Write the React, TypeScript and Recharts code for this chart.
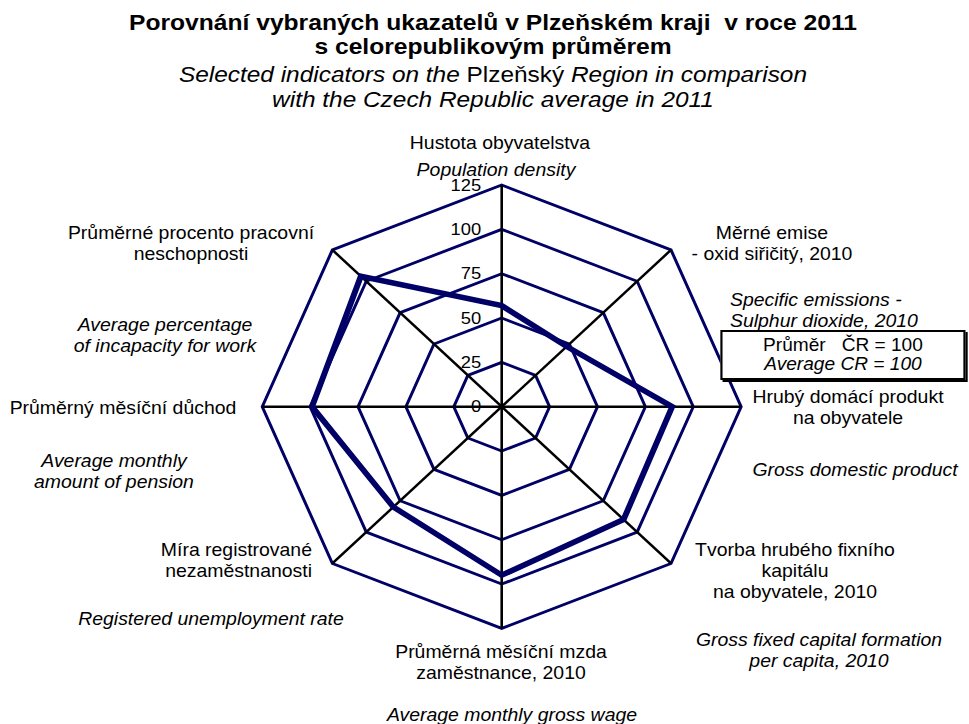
import React from 'react';
import { RadarChart, Radar, PolarGrid, PolarAngleAxis, PolarRadiusAxis } from 'recharts';

// Ukazatele v pořadí po směru hodinových ručiček, začíná se nahoře
const indicatorIds = ['hustota', 'emise', 'hdp', 'thfk', 'mzda', 'nezam', 'duchod', 'neschop'];

const czLabels = [
  'Hustota obyvatelstva',
  'Měrné emise\n- oxid siřičitý, 2010',
  'Hrubý domácí produkt\nna obyvatele',
  'Tvorba hrubého fixního\nkapitálu\nna obyvatele, 2010',
  'Průměrná měsíční mzda\nzaměstnance, 2010',
  'Míra registrované\nnezaměstnanosti',
  'Průměrný měsíční důchod',
  'Průměrné procento pracovní\nneschopnosti',
];

const enLabels = [
  'Population density',
  'Specific emissions  -\nSulphur dioxide, 2010',
  'Gross domestic product',
  'Gross fixed capital formation\nper capita, 2010',
  'Average monthly gross wage',
  'Registered unemployment rate',
  'Average monthly\namount of pension',
  'Average percentage\nof incapacity for work',
];

const plzenValues = [57, 48, 89, 90, 95, 80, 99, 104];

const radiusTicks = [0, 25, 50, 75, 100, 125];

const chartData = indicatorIds.map((id, i) => ({ id, value: plzenValues[i] }));

// obrázek je vodorovně roztažený, proto scaleX
const S = 1.08;
const NAVY = '#000066';
const FONT = '"Liberation Sans", Arial, sans-serif';
const LINE = 21;

// umístění popisků (x v pixelech výsledného obrázku)
type Anchor = 'start' | 'middle' | 'end';
const labelLayout: { czX: number; czY: number; czA: Anchor; enX: number; enY: number; enA: Anchor }[] = [
  { czX: 500, czY: 143, czA: 'middle', enX: 496, enY: 170, enA: 'middle' },
  { czX: 772, czY: 233, czA: 'middle', enX: 730, enY: 300, enA: 'start' },
  { czX: 848, czY: 397, czA: 'middle', enX: 855, enY: 470, enA: 'middle' },
  { czX: 795, czY: 550, czA: 'middle', enX: 819, enY: 640, enA: 'middle' },
  { czX: 501, czY: 652, czA: 'middle', enX: 512, enY: 715, enA: 'middle' },
  { czX: 312, czY: 550, czA: 'end', enX: 211, enY: 619, enA: 'middle' },
  { czX: 123, czY: 408, czA: 'middle', enX: 114, enY: 461, enA: 'middle' },
  { czX: 191, czY: 233, czA: 'middle', enX: 165, enY: 325, enA: 'middle' },
];

const AngleTick = (props: any) => {
  const i = indicatorIds.indexOf(props.payload.value);
  if (i < 0) return null;
  const pos = labelLayout[i];
  const cz = czLabels[i].split('\n');
  const en = enLabels[i].split('\n');
  return (
    <g>
      {cz.map((line, k) => (
        <text key={'cz' + k} x={pos.czX / S} y={pos.czY + k * LINE} textAnchor={pos.czA}
          dominantBaseline="central" fontSize={18} fill="#000" fontFamily={FONT}>
          {line}
        </text>
      ))}
      {en.map((line, k) => (
        <text key={'en' + k} x={pos.enX / S} y={pos.enY + k * LINE} textAnchor={pos.enA}
          dominantBaseline="central" fontSize={18} fontStyle="italic" fill="#000" fontFamily={FONT}>
          {line}
        </text>
      ))}
    </g>
  );
};

const RadiusTick = (props: any) => (
  <text x={props.x - 19} y={props.y} textAnchor="end" dominantBaseline="central"
    fontSize={17} fill="#000" fontFamily={FONT}>
    {props.payload.value}
  </text>
);

const titleLine = (top: number, bold: boolean, content: React.ReactNode) => (
  <div style={{
    position: 'absolute', left: 493 / S - 400, top, width: 800, textAlign: 'center',
    fontSize: bold ? 22.8 : 22.6, lineHeight: '24px', fontWeight: bold ? 'bold' : 'normal',
    fontStyle: bold ? 'normal' : 'italic', color: '#000', whiteSpace: 'nowrap',
  }}>
    {content}
  </div>
);

export default function App() {
  return (
    <div style={{ position: 'absolute', left: 0, top: 0, width: 969, height: 724, background: '#fff', overflow: 'hidden' }}>
      <div style={{
        position: 'absolute', left: 0, top: 0, width: 969 / S, height: 724,
        transform: `scaleX(${S})`, transformOrigin: '0 0', fontFamily: FONT,
      }}>
        {titleLine(10, true, 'Porovnání vybraných ukazatelů v Plzeňském kraji\u00a0 v roce 2011')}
        {titleLine(34, true, 's celorepublikovým průměrem')}
        {titleLine(63, false, <>Selected indicators on the <span style={{ fontStyle: 'normal' }}>Plzeňský</span> Region in comparison</>)}
        {titleLine(88, false, 'with the Czech Republic average in 2011')}

        <div style={{ position: 'absolute', left: 0, top: 0 }}>
          <RadarChart width={969 / S} height={724} data={chartData}
            cx={501.7 / S} cy={406.7} outerRadius={221.7} startAngle={90} endAngle={-270}>
            <PolarGrid gridType="polygon" radialLines={false} stroke={NAVY} strokeWidth={2.8} />
            <PolarGrid gridType="polygon" polarRadius={[]} stroke="#000" strokeWidth={2.4} />
            <PolarAngleAxis dataKey="id" tick={AngleTick} axisLine={false} tickLine={false} />
            <PolarRadiusAxis angle={90} domain={[0, 125]} tickCount={radiusTicks.length}
              axisLine={false} tick={RadiusTick} />
            <Radar dataKey="value" stroke={NAVY} strokeWidth={5.5} strokeLinejoin="miter"
              fill="none" fillOpacity={0} dot={false} isAnimationActive={false} />
          </RadarChart>
        </div>

        <div style={{
          position: 'absolute', left: 720 / S, top: 330, width: 246 / S, height: 50,
          boxSizing: 'border-box', border: '2px solid #000', boxShadow: '2px 2px 0 #000',
          background: '#fff', textAlign: 'center', fontSize: 17.7, lineHeight: '19px',
          paddingTop: 4, color: '#000',
        }}>
          <div>Průměr&nbsp;&nbsp; ČR = 100</div>
          <div style={{ fontStyle: 'italic' }}>Average CR = 100</div>
        </div>
      </div>
    </div>
  );
}
